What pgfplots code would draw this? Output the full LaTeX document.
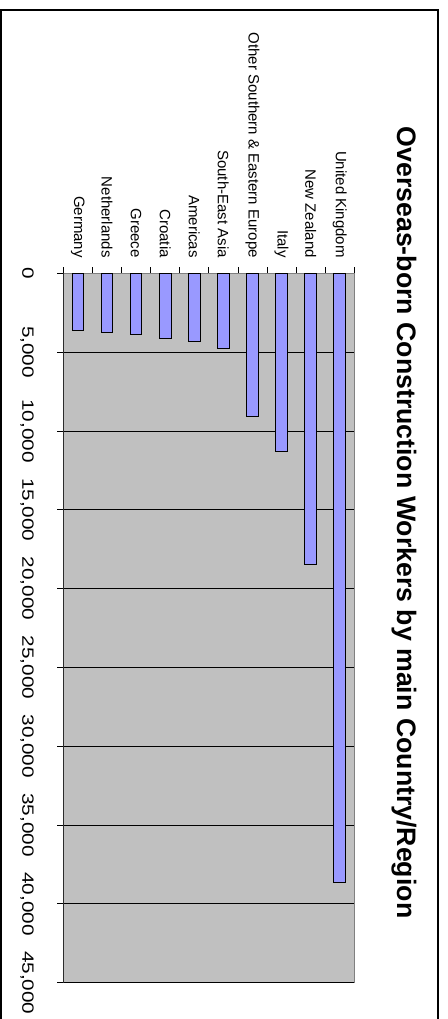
\documentclass[border=0pt]{standalone}
\usepackage{fontspec}
\setmainfont{Liberation Sans}
\newfontfamily\tickfont[FakeStretch=1.27]{Liberation Sans}
\usepackage{pgfplots}
\pgfplotsset{compat=1.18}
\definecolor{plotgray}{HTML}{C0C0C0}
\definecolor{edgegray}{HTML}{808080}
\definecolor{barblue}{HTML}{9999FF}
\begin{document}
\begin{tikzpicture}
\useasboundingbox (0,0) rectangle (448bp,1019bp);
% chart frame (open at the bottom)
\draw[line width=1.8bp] (1bp,-5bp) -- (1bp,1009bp) -- (438.3bp,1009bp) -- (438.3bp,-5bp);
\begin{axis}[
    at={(208.8bp,391bp)}, anchor=center,
    scale only axis,
    width=291bp, height=709.4bp,
    ybar, bar width=11.7bp, bar shift=0pt,
    xmin=-0.5, xmax=9.5,
    ymin=0, ymax=45000,
    y dir=reverse,
    xtick={0,...,9},
    xticklabels={Germany,Netherlands,Greece,Croatia,Americas,South-East Asia,Other Southern \& Eastern Europe,Italy,New Zealand,United Kingdom},
    minor xtick={-0.5,0.5,...,9.5},
    major x tick style={draw=none},
    xtick pos=right, xticklabel pos=right, ytick pos=left,
    tick align=outside,
    major tick length=6bp, minor tick length=6bp,
    tick style={black, line width=0.8bp},
    ytick={0,5000,...,45000},
    scaled y ticks=false,
    /pgf/number format/.cd, 1000 sep={,}, assume math mode=true, /pgfplots/.cd,
    ymajorgrids,
    major grid style={black, line width=0.8bp},
    axis background/.style={fill=plotgray},
    axis line style={draw=edgegray, line width=1.4bp},
    xticklabel style={rotate=-90, anchor=east, font=\fontsize{15bp}{17bp}\selectfont},
    xticklabel shift=6bp,
    yticklabel style={rotate=-90, anchor=north, font=\tickfont\fontsize{16.3bp}{18bp}\selectfont},
    yticklabel shift=20bp,
]
\addplot[fill=barblue, draw=black, line width=0.9bp] coordinates {
    (0,3600) (1,3730) (2,3850) (3,4150) (4,4350)
    (5,4780) (6,9050) (7,11300) (8,18450) (9,38620)
};
\draw[black, line width=0.9bp] (rel axis cs:0,1) -- (rel axis cs:0,0) -- (rel axis cs:1,0);
\end{axis}
\node[rotate=-90, anchor=base, font=\bfseries\fontsize{26.7bp}{30bp}\selectfont]
    at (397bp,496.5bp) {Overseas-born Construction Workers by main Country/Region};
\end{tikzpicture}
\end{document}
